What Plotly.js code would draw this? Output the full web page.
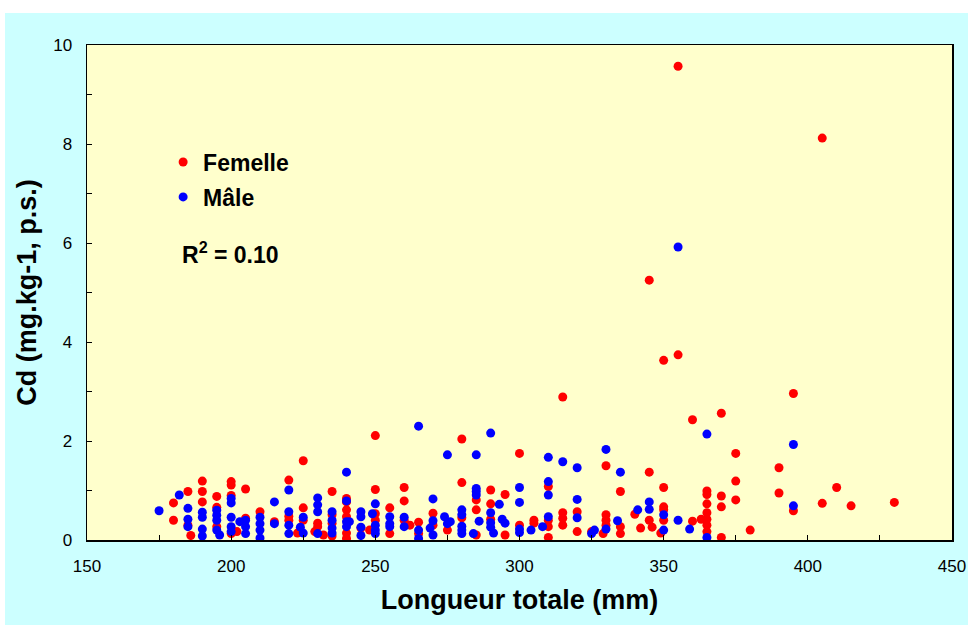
<!DOCTYPE html>
<html>
<head>
<meta charset="utf-8">
<script src="https://cdn.plot.ly/plotly-3.0.1.min.js"></script>
<style>html,body{margin:0;padding:0;background:#fff;}#chart{width:973px;height:630px;}</style>
</head>
<body>
<div id="chart"></div>
<script>
// Femelle (red)
const femaleLength = [
 180,180,185,185,186,190,190,190,195,195,195,200,200,200,200,202,205,205,210,215,
 220,220,220,223,225,225,225,229,230,230,232,235,235,235,235,240,240,240,240,240,240,
 245,248,250,250,250,250,255,255,260,260,260,262,265,265,270,270,275,280,280,280,
 285,285,285,290,290,290,295,295,300,300,305,305,310,310,310,310,315,315,315,315,
 320,320,325,329,330,330,330,330,335,335,335,340,342,345,345,345,346,349,
 350,350,350,350,350,355,355,360,360,363,365,365,365,365,365,365,365,
 370,370,370,370,375,375,375,380,390,390,395,395,405,405,410,415,430
];
const femaleCd = [
 0.75,0.40,0.98,0.30,0.09,1.19,0.98,0.77,0.88,0.66,0.27,1.18,1.11,0.90,0.13,0.17,1.03,0.44,0.57,0.37,
 1.21,0.48,0.40,0.14,1.60,0.65,0.40,0.17,0.34,0.27,0.10,0.98,0.51,0.34,0.08,0.84,0.77,0.61,0.47,0.14,0.03,
 0.24,0.20,2.11,1.02,0.53,0.40,0.65,0.13,1.06,0.79,0.40,0.30,0.36,0.13,0.54,0.30,0.20,2.04,1.16,0.45,
 0.81,0.61,0.10,1.01,0.73,0.42,0.92,0.10,1.75,0.30,0.40,0.34,1.08,0.40,0.27,0.05,2.89,0.55,0.44,0.30,
 0.57,0.17,0.17,0.13,1.50,0.51,0.40,0.30,0.98,0.27,0.13,0.52,0.24,5.25,1.37,0.40,0.26,0.14,
 3.63,1.06,0.67,0.61,0.40,9.57,3.74,2.43,0.38,0.42,0.99,0.92,0.73,0.55,0.42,0.30,0.17,
 2.56,0.89,0.67,0.05,1.75,1.19,0.81,0.20,1.46,0.95,2.96,0.59,8.12,0.74,1.06,0.69,0.76
];
// Mâle (blue)
const maleLength = [
 175,182,185,185,185,190,190,190,190,195,195,195,195,196,200,200,200,200,200,203,
 205,205,205,210,210,210,210,215,215,220,220,220,220,224,225,225,230,230,230,230,
 235,235,235,235,240,240,240,240,241,245,245,245,245,249,250,250,250,250,255,255,255,
 260,260,265,265,265,269,270,270,270,274,275,275,276,280,280,280,280,280,284,
 285,285,285,285,286,290,290,290,290,291,293,294,295,300,300,300,300,304,308,
 310,310,310,310,315,320,320,320,325,326,330,330,334,335,341,345,345,350,350,
 355,355,359,365,365,395,395
];
const maleCd = [
 0.59,0.91,0.64,0.42,0.27,0.56,0.46,0.22,0.08,0.60,0.50,0.40,0.20,0.10,0.84,0.75,0.46,0.27,0.17,0.37,
 0.40,0.27,0.13,0.46,0.33,0.20,0.04,0.77,0.33,1.01,0.57,0.30,0.13,0.26,0.46,0.14,0.85,0.71,0.57,0.13,
 0.57,0.40,0.24,0.14,1.37,0.79,0.37,0.27,0.37,0.57,0.47,0.26,0.09,0.53,0.73,0.30,0.20,0.13,0.47,0.33,0.27,
 0.46,0.27,2.30,0.20,0.03,0.24,0.83,0.39,0.10,0.47,1.72,0.33,0.37,0.61,0.51,0.28,0.20,0.13,0.13,
 1.72,1.04,0.98,0.91,0.38,2.16,0.55,0.35,0.26,0.14,0.72,0.42,0.34,1.06,0.76,0.22,0.15,0.20,0.27,
 1.67,1.18,0.91,0.47,1.58,1.46,0.82,0.45,0.13,0.20,1.83,0.22,0.39,1.37,0.61,0.77,0.62,0.51,0.20,
 5.92,0.40,0.22,2.14,0.05,1.93,0.69
];
const seriesNames = ["Femelle", "Mâle"];
const xTitle = "Longueur totale (mm)";
const yTitle = "Cd (mg.kg-1, p.s.)";
const r2Text = "R<sup>2</sup> = 0.10";

const FONT = "Liberation Sans, Arial, sans-serif";

const traces = [
  {x: femaleLength, y: femaleCd, name: seriesNames[0], type: "scatter", mode: "markers",
   legendgroup: "f", marker: {color: "#FF0000", size: 9}},
  {x: maleLength, y: maleCd, name: seriesNames[1], type: "scatter", mode: "markers",
   legendgroup: "m", marker: {color: "#0000FF", size: 9}}
];

const axisCommon = {
  showline: true, mirror: true, linecolor: "#000", linewidth: 1.5,
  ticks: "inside", ticklen: 5, tickwidth: 1, tickcolor: "#000",
  showgrid: false, zeroline: false,
  tickfont: {family: FONT, size: 17, color: "#000"}
};

const layout = {
  width: 973, height: 630,
  margin: {l: 87, r: 21, t: 45, b: 90},
  paper_bgcolor: "#FFFFFF",
  plot_bgcolor: "#FFFFCC",
  showlegend: true,
  legend: {x: 0.088, y: 0.807, xanchor: "left", yanchor: "top",
           bgcolor: "rgba(0,0,0,0)", traceorder: "grouped", tracegroupgap: 2,
           font: {family: FONT, size: 23, color: "#000", weight: "bold"}},
  xaxis: Object.assign({}, axisCommon, {
    range: [150, 450], dtick: 50, tick0: 150,
    minor: {dtick: 25, ticks: "inside", ticklen: 5, tickcolor: "#000"},
    ticklabelstandoff: 10,
    title: {text: xTitle, standoff: 15, font: {family: FONT, size: 27, color: "#000", weight: "bold"}}
  }),
  yaxis: Object.assign({}, axisCommon, {
    range: [0, 10], dtick: 2, tick0: 0,
    minor: {dtick: 1, ticks: "inside", ticklen: 5, tickcolor: "#000"},
    ticklabelstandoff: 10,
    title: {text: yTitle, standoff: 8, font: {family: FONT, size: 27, color: "#000", weight: "bold"}}
  }),
  shapes: [
    {type: "rect", xref: "paper", yref: "paper", layer: "below",
     x0: -0.0948, x1: 1.0185, y0: -0.1717, y1: 1.0646,
     fillcolor: "#CCFFFF", line: {width: 0}},
    {type: "rect", xref: "paper", yref: "paper", layer: "below",
     x0: 0, x1: 1, y0: 0, y1: 1, fillcolor: "#FFFFCC", line: {width: 0}}
  ],
  annotations: [
    {xref: "paper", yref: "paper", x: 0.1075, y: 0.58, xanchor: "left", yanchor: "middle",
     showarrow: false, text: r2Text,
     font: {family: FONT, size: 23, color: "#000", weight: "bold"}}
  ]
};

Plotly.newPlot("chart", traces, layout, {displayModeBar: false, staticPlot: true});
</script>
</body>
</html>
